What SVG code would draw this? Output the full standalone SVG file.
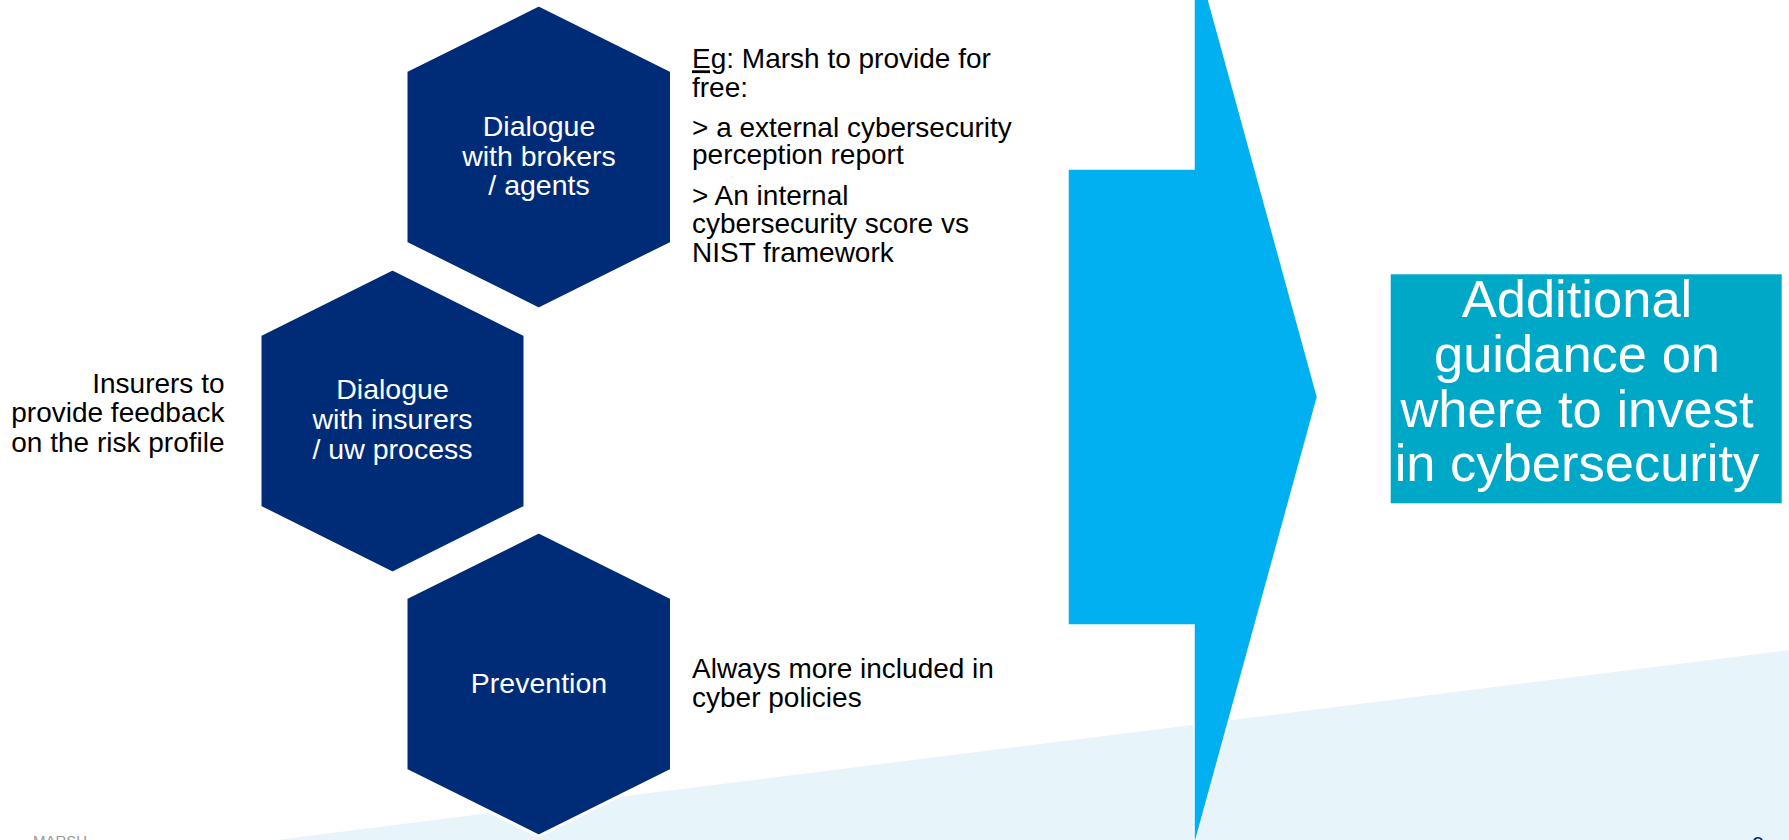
<svg xmlns="http://www.w3.org/2000/svg" width="1789" height="840" viewBox="0 0 1789 840">
  <style>
    .hex { fill: #002c77; stroke: #ffffff; stroke-width: 3; }
    .hext { font-family: "Liberation Sans", Arial, sans-serif; font-size: 28.5px; fill: #ffffff; text-anchor: middle; }
    .body { font-family: "Liberation Sans", Arial, sans-serif; font-size: 28px; fill: #000000; }
    .big { font-family: "Liberation Sans", Arial, sans-serif; font-size: 52.5px; fill: #ffffff; text-anchor: middle; }
  </style>
  <rect x="0" y="0" width="1789" height="840" fill="#ffffff"/>
  <g id="background">
    <polygon points="276,840 1789,650 1789,840" fill="#e7f4fa"/>
  </g>
  <g id="arrow">
    <polygon points="1068,169 1194,169 1194,-53 1317.5,397 1194,847 1194,625 1068,625" fill="#00b0f0" stroke="#ffffff" stroke-width="1.5"/>
  </g>
  <g id="node-brokers">
    <polygon class="hex" points="538.75,5 671.5,71 671.5,243 538.75,309 406,243 406,71"/>
    <text class="hext"><tspan x="539" y="136">Dialogue</tspan><tspan x="539" y="165.5">with brokers</tspan><tspan x="539" y="195">/ agents</tspan></text>
  </g>
  <g id="node-insurers">
    <polygon class="hex" points="392.5,269 525,335 525,507 392.5,573 260,507 260,335"/>
    <text class="hext"><tspan x="392.5" y="399">Dialogue</tspan><tspan x="392.5" y="429">with insurers</tspan><tspan x="392.5" y="459">/ uw process</tspan></text>
  </g>
  <g id="node-prevention">
    <polygon class="hex" points="538.75,532 671.5,598 671.5,770 538.75,836 406,770 406,598"/>
    <text class="hext" x="539" y="693">Prevention</text>
  </g>
  <g id="note-brokers">
    <text class="body"><tspan x="692" y="68.3"><tspan text-decoration="underline">Eg</tspan>: Marsh to provide for</tspan><tspan x="692" y="96.7">free:</tspan><tspan x="692" y="136.7">&gt; a external cybersecurity</tspan><tspan x="692" y="164.3">perception report</tspan><tspan x="692" y="205">&gt; An internal</tspan><tspan x="692" y="233">cybersecurity score vs</tspan><tspan x="692" y="262">NIST framework</tspan></text>
  </g>
  <g id="note-insurers">
    <text class="body" text-anchor="end"><tspan x="224.5" y="393.3">Insurers to</tspan><tspan x="224.5" y="422.3">provide feedback</tspan><tspan x="224.5" y="451.7">on the risk profile</tspan></text>
  </g>
  <g id="note-prevention">
    <text class="body"><tspan x="692" y="678.3">Always more included in</tspan><tspan x="692" y="706.7">cyber policies</tspan></text>
  </g>
  <g id="node-guidance">
    <rect x="1390.7" y="274.3" width="391" height="229" fill="#00a8c8"/>
    <text class="big"><tspan x="1577" y="316.7">Additional</tspan><tspan x="1577" y="371.7">guidance on</tspan><tspan x="1577" y="426.7">where to invest</tspan><tspan x="1577" y="481">in cybersecurity</tspan></text>
  </g>
  <g id="footer">
    <text x="33" y="846" font-family="Liberation Sans, Arial, sans-serif" font-size="15px" fill="#9a9a9a">MARSH</text>
    <text x="1752" y="852" font-family="Liberation Sans, Arial, sans-serif" font-size="22px" fill="#002c77">9</text>
  </g>
</svg>
